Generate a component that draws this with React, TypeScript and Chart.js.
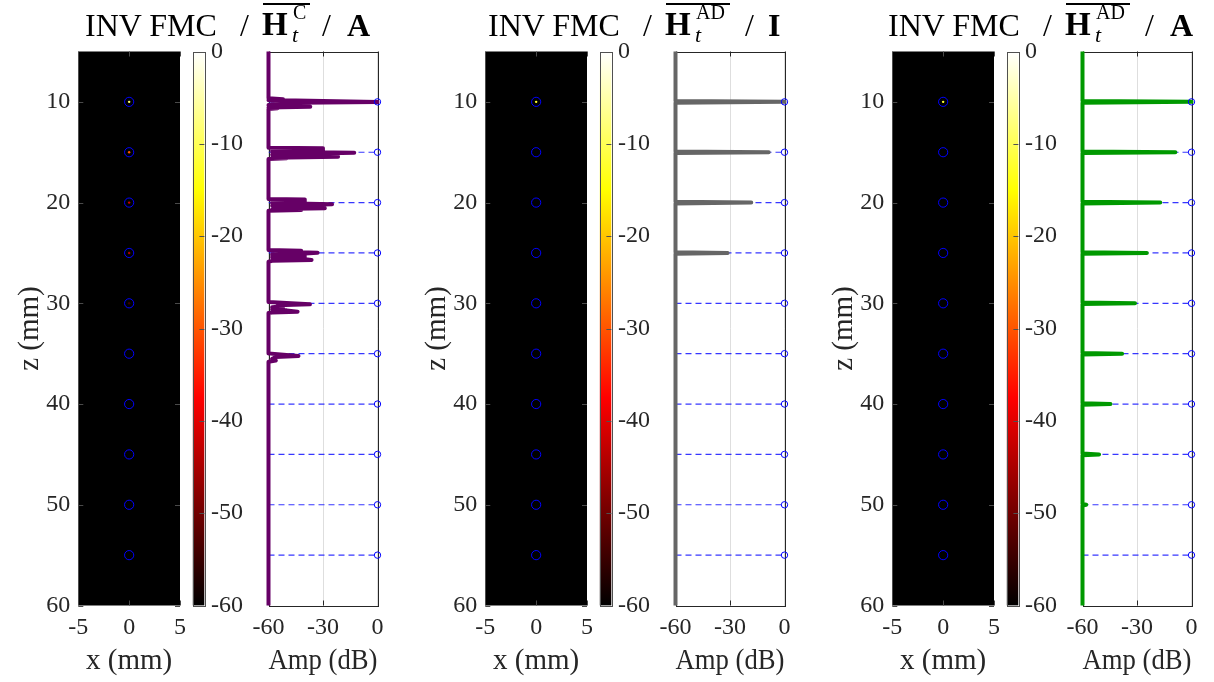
import React, { useEffect, useRef } from 'react';
import { Chart, registerables } from 'chart.js';

Chart.register(...registerables);

// ---------------- data ----------------
const scattererZ = [10, 15, 20, 25, 30, 35, 40, 45, 50, 55];
const zTicks = [10, 20, 30, 40, 50, 60];
const xTicks = [-5, 0, 5];
const ampTicks = [-60, -30, 0];
const cbTicks = [0, -10, -20, -30, -40, -50, -60];

// Panel 1: H_t^C / A  (z in mm, amplitude in dB)
const profileC_z = [
  5,
  9.65, 9.75, 9.82, 10.01, 10.12, 10.22, 10.32, 10.48, 10.56, 10.64, 10.71,
  14.55, 14.6, 14.65, 14.7, 14.75, 14.8, 14.85, 14.9, 14.95, 15.05, 15.15, 15.2, 15.25, 15.3, 15.45, 15.55, 15.6, 15.68,
  19.65, 19.7, 19.75, 19.8, 19.85, 19.9, 19.95, 20.0, 20.05, 20.17, 20.27, 20.32, 20.42, 20.57, 20.62, 20.68, 20.74, 20.81,
  24.71, 24.78, 24.85, 24.98, 25.08, 25.14, 25.24, 25.3, 25.4, 25.46, 25.58, 25.7, 25.78, 25.87,
  29.88, 29.96, 30.1, 30.2, 30.3, 30.4, 30.5, 30.6, 30.7, 30.84, 30.92, 30.97,
  34.97, 35.05, 35.24, 35.34, 35.5, 35.68, 35.8,
  60,
];
const profileC_amp = [
  -60,
  -60, -52, -60, 0, -58, -50, -60, -37, -60, -55, -60,
  -60, -30, -58, -30, -58, -30, -58, -30, -58, -12.8, -40, -30, -58, -45, -21.7, -58, -50, -60,
  -60, -40, -58, -40, -58, -40, -58, -40, -58, -25, -45, -58, -40, -29, -45, -58, -42, -60,
  -60, -42, -58, -33, -42, -58, -40, -58, -40, -58, -42, -36.3, -58, -60,
  -60, -50, -37.2, -55, -52, -58, -52, -58, -50, -44, -58, -60,
  -60, -55, -43.5, -56, -58, -56, -60,
  -60,
];

// Panel 2: H_t^AD / I
const profileADI_z = [5, 9.92, 10, 10.08, 14.92, 15, 15.08, 19.92, 20, 20.08, 24.92, 25, 25.08, 60];
const profileADI_amp = [-60, -60, 0, -60, -60, -8.7, -60, -60, -18.3, -60, -60, -31.3, -60, -60];

// Panel 3: H_t^AD / A
const profileADA_z = [
  5, 9.92, 10, 10.08, 14.92, 15, 15.08, 19.92, 20, 20.08, 24.92, 25, 25.08, 29.92, 30, 30.08,
  34.92, 35, 35.08, 39.92, 40, 40.08, 44.92, 45, 45.08, 49.92, 50, 50.08, 60,
];
const profileADA_amp = [
  -60, -60, 0, -60, -60, -8.9, -60, -60, -17.2, -60, -60, -24.6, -60, -60, -31.1, -60,
  -60, -38.2, -60, -60, -44.6, -60, -60, -50.9, -60, -60, -58, -60, -60,
];

// image intensity at each scatterer centre (dB)
const imageC_amp = [-8, -30, -42, -45, -55, -60, -60, -60, -60, -60];
const imageADI_amp = [-12, -60, -60, -60, -60, -60, -60, -60, -60, -60];
const imageADA_amp = [-12, -60, -60, -60, -60, -60, -60, -60, -60, -60];

// ---------------- style / layout ----------------
const W = 1214;
const H = 682;
const PLOT_TOP = 51.5;
const PLOT_BOTTOM = 605.5;
const FONT = "'Liberation Serif', 'Times New Roman', serif";
const TXT = '#262626';

const hotStops: [number, string][] = [
  [0, '#000000'],
  [0.375, '#ff0000'],
  [0.75, '#ffff00'],
  [1, '#ffffff'],
];

function hotColor(db: number) {
  const f = Math.max(0, Math.min(1, (db + 60) / 60));
  const c = (v: number) => Math.round(255 * Math.max(0, Math.min(1, v)));
  return `rgb(${c(f / 0.375)},${c((f - 0.375) / 0.375)},${c((f - 0.75) / 0.25)})`;
}

// title pieces: left of "INV FMC", offsets of second slash, last symbol and overline end
const panels = [
  { bx: 0, tl: 85, sup: 'C', last: 'A', s2: 237, lst: 262, ov: 47, color: '#660066', z: profileC_z, amp: profileC_amp, img: imageC_amp },
  { bx: 407, tl: 488, sup: 'AD', last: 'I', s2: 257, lst: 280, ov: 64, color: '#666666', z: profileADI_z, amp: profileADI_amp, img: imageADI_amp },
  { bx: 814, tl: 888, sup: 'AD', last: 'A', s2: 257, lst: 282, ov: 64, color: '#009900', z: profileADA_z, amp: profileADA_amp, img: imageADA_amp },
];

const tickFont = { size: 24, family: FONT };
const labelFont = { size: 29, family: FONT };

const setTicks = (vals: number[]) => (s: any) => {
  s.ticks = vals.map((v) => ({ value: v }));
};

const px = (v: number) => Math.round(v) + 0.5;

// ---------------- plugins ----------------
const blackBg = {
  id: 'blackBg',
  beforeDatasetsDraw(chart: any) {
    const { ctx, chartArea: a } = chart;
    ctx.save();
    ctx.fillStyle = '#000';
    ctx.fillRect(a.left, a.top, a.right - a.left, a.bottom - a.top);
    ctx.restore();
  },
};

const imageTicks = {
  id: 'imageTicks',
  afterDatasetsDraw(chart: any) {
    const { ctx, chartArea: a, scales } = chart;
    ctx.save();
    ctx.strokeStyle = '#4a4a4a';
    ctx.lineWidth = 1;
    ctx.beginPath();
    xTicks.forEach((v) => {
      const x = px(scales.x.getPixelForValue(v));
      ctx.moveTo(x, a.top);
      ctx.lineTo(x, a.top + 5);
      ctx.moveTo(x, a.bottom);
      ctx.lineTo(x, a.bottom - 5);
    });
    zTicks.forEach((v) => {
      const y = px(scales.y.getPixelForValue(v));
      ctx.moveTo(a.left, y);
      ctx.lineTo(a.left + 5, y);
      ctx.moveTo(a.right, y);
      ctx.lineTo(a.right - 5, y);
    });
    ctx.stroke();
    ctx.restore();
  },
};

const ampBox = {
  id: 'ampBox',
  beforeDatasetsDraw(chart: any) {
    const { ctx, chartArea: a, scales } = chart;
    ctx.save();
    ctx.strokeStyle = TXT;
    ctx.lineWidth = 1;
    ctx.strokeRect(px(a.left), px(a.top), Math.round(a.right - a.left), Math.round(a.bottom - a.top));
    ctx.beginPath();
    ampTicks.forEach((v) => {
      const x = px(scales.x.getPixelForValue(v));
      ctx.moveTo(x, a.top);
      ctx.lineTo(x, a.top + 5);
      ctx.moveTo(x, a.bottom);
      ctx.lineTo(x, a.bottom - 5);
    });
    ctx.stroke();
    ctx.restore();
  },
};

const cbFrame = {
  id: 'cbFrame',
  afterDatasetsDraw(chart: any) {
    const { ctx, chartArea: a, scales } = chart;
    ctx.save();
    ctx.strokeStyle = '#505050';
    ctx.lineWidth = 1;
    ctx.strokeRect(px(a.left), px(a.top), Math.round(a.right - a.left), Math.round(a.bottom - a.top));
    ctx.beginPath();
    cbTicks.forEach((v) => {
      const y = px(scales.y.getPixelForValue(v));
      ctx.moveTo(a.right, y);
      ctx.lineTo(a.right - 5, y);
    });
    ctx.stroke();
    ctx.restore();
  },
};

const noGrid = { display: false, drawTicks: false };

// ---------------- charts ----------------
function makeImage(canvas: HTMLCanvasElement, p: any) {
  return new Chart(canvas, {
    type: 'scatter',
    data: {
      datasets: [
        {
          data: scattererZ.map((z) => ({ x: 0, y: z })),
          pointRadius: 1.2,
          pointBorderWidth: 0,
          pointBackgroundColor: p.img.map(hotColor),
        },
        {
          data: scattererZ.map((z) => ({ x: 0, y: z })),
          pointRadius: 4.6,
          pointBorderWidth: 1,
          pointBorderColor: '#0000ff',
          pointBackgroundColor: 'rgba(0,0,0,0)',
        },
      ],
    },
    options: {
      responsive: false,
      animation: false,
      events: [],
      layout: { padding: { left: p.bx, right: W - (p.bx + 180), top: PLOT_TOP, bottom: 0 } },
      plugins: { legend: { display: false }, tooltip: { enabled: false } },
      scales: {
        x: {
          type: 'linear',
          min: -5,
          max: 5,
          afterBuildTicks: setTicks(xTicks),
          afterFit: (s: any) => {
            s.height = H - PLOT_BOTTOM;
          },
          grid: noGrid,
          border: { display: false },
          ticks: { padding: 8, font: tickFont, color: TXT, maxRotation: 0, autoSkip: false, callback: (v: any) => String(v) },
          title: { display: true, text: 'x (mm)', font: labelFont, color: TXT, padding: { top: 0, bottom: 3.6 } },
        },
        y: {
          type: 'linear',
          reverse: true,
          min: 5,
          max: 60,
          afterBuildTicks: setTicks(zTicks),
          afterFit: (s: any) => {
            s.width = 78.3;
          },
          grid: noGrid,
          border: { display: false },
          ticks: { padding: 8, font: tickFont, color: TXT, autoSkip: false, callback: (v: any) => String(v) },
          title: { display: true, text: 'z (mm)', font: labelFont, color: TXT, padding: { top: 12.6, bottom: 0 } },
        },
      },
    },
    plugins: [blackBg, imageTicks],
  } as any);
}

function makeColorbar(canvas: HTMLCanvasElement, p: any) {
  return new Chart(canvas, {
    type: 'bar',
    data: {
      labels: [''],
      datasets: [
        {
          data: [[-60, 0]],
          borderWidth: 0,
          barPercentage: 1,
          categoryPercentage: 1,
          backgroundColor: (c: any) => {
            const a = c.chart.chartArea;
            if (!a) return '#ffff00';
            const g = c.chart.ctx.createLinearGradient(0, a.bottom, 0, a.top);
            hotStops.forEach(([f, col]) => g.addColorStop(f, col));
            return g;
          },
        },
      ],
    },
    options: {
      responsive: false,
      animation: false,
      events: [],
      layout: {
        padding: { left: p.bx + 192.7, right: W - (p.bx + 204.4) - 50, top: PLOT_TOP, bottom: H - PLOT_BOTTOM },
      },
      plugins: { legend: { display: false }, tooltip: { enabled: false } },
      scales: {
        x: { display: false },
        y: {
          position: 'right',
          min: -60,
          max: 0,
          afterBuildTicks: setTicks(cbTicks),
          afterFit: (s: any) => {
            s.width = 50;
          },
          grid: noGrid,
          border: { display: false },
          ticks: { padding: 6.5, font: tickFont, color: TXT, autoSkip: false, callback: (v: any) => String(v) },
        },
      },
    },
    plugins: [cbFrame],
  } as any);
}

function makeAmp(canvas: HTMLCanvasElement, p: any) {
  const dashed = scattererZ.map((z) => ({
    data: [
      { x: -60, y: z },
      { x: 0, y: z },
    ],
    showLine: true,
    borderColor: 'rgba(20,20,255,0.85)',
    borderWidth: 1.2,
    borderDash: [6, 4],
    pointRadius: 0,
    order: 2,
  }));
  return new Chart(canvas, {
    type: 'scatter',
    data: {
      datasets: [
        {
          data: p.z.map((z: number, i: number) => ({ x: p.amp[i], y: z })),
          showLine: true,
          borderColor: p.color,
          borderWidth: 4,
          borderJoinStyle: 'round',
          borderCapStyle: 'butt',
          pointRadius: 0,
          clip: { left: 4, right: 3, top: 0, bottom: 0 },
          order: 0,
        },
        ...dashed,
        {
          data: scattererZ.map((z) => ({ x: 0, y: z })),
          pointRadius: 3.2,
          pointBorderWidth: 1,
          pointBorderColor: '#0000ff',
          pointBackgroundColor: 'rgba(0,0,0,0)',
          clip: false,
          order: -1,
        },
      ],
    },
    options: {
      responsive: false,
      animation: false,
      events: [],
      layout: { padding: { left: p.bx + 268.5, right: W - (p.bx + 377.5), top: PLOT_TOP, bottom: 0 } },
      plugins: { legend: { display: false }, tooltip: { enabled: false } },
      scales: {
        x: {
          type: 'linear',
          min: -60,
          max: 0,
          afterBuildTicks: setTicks(ampTicks),
          afterFit: (s: any) => {
            s.height = H - PLOT_BOTTOM;
          },
          grid: { display: true, color: '#dedede', lineWidth: 1, drawTicks: false },
          border: { display: false },
          ticks: { padding: 8, font: tickFont, color: TXT, maxRotation: 0, autoSkip: false, callback: (v: any) => String(v) },
          title: { display: true, text: 'Amp (dB)', font: labelFont, color: TXT, padding: { top: 0, bottom: 3.6 } },
        },
        y: { display: false, type: 'linear', reverse: true, min: 5, max: 60 },
      },
    },
    plugins: [ampBox],
  } as any);
}

// ---------------- components ----------------
// baseline from top of a line box with line-height = font size (Liberation Serif)
const BASE_K = 0.8375;

function Piece({ x, base, size, bold, italic, children }: any) {
  return (
    <span
      style={{
        position: 'absolute',
        left: x,
        top: base - BASE_K * size,
        fontFamily: FONT,
        fontSize: size,
        lineHeight: `${size}px`,
        fontWeight: bold ? 'bold' : 'normal',
        fontStyle: italic ? 'italic' : 'normal',
        whiteSpace: 'nowrap',
        color: '#000',
      }}
    >
      {children}
    </span>
  );
}

function Title({ p }: { p: any }) {
  const L = p.tl;
  const B = 35.7;
  return (
    <>
      <Piece x={L} base={B} size={32}>INV FMC</Piece>
      <Piece x={L + 155} base={B} size={32}>/</Piece>
      <Piece x={L + 177} base={B} size={33} bold>H</Piece>
      <Piece x={L + 208} base={18.3} size={20}>{p.sup}</Piece>
      <Piece x={L + 207} base={42.5} size={22} italic>t</Piece>
      <span style={{ position: 'absolute', left: L + 178, top: 3.4, width: p.ov, height: 2, background: '#000' }} />
      <Piece x={L + p.s2} base={B} size={32}>/</Piece>
      <Piece x={L + p.lst} base={B} size={32} bold>{p.last}</Piece>
    </>
  );
}

function Panel({ p }: { p: any }) {
  const imgRef = useRef<HTMLCanvasElement>(null);
  const cbRef = useRef<HTMLCanvasElement>(null);
  const ampRef = useRef<HTMLCanvasElement>(null);
  useEffect(() => {
    const charts = [makeImage(imgRef.current!, p), makeColorbar(cbRef.current!, p), makeAmp(ampRef.current!, p)];
    return () => charts.forEach((c) => c.destroy());
  }, [p]);
  const cs: React.CSSProperties = { position: 'absolute', left: 0, top: 0 };
  return (
    <>
      <canvas ref={imgRef} width={W} height={H} style={cs} />
      <canvas ref={cbRef} width={W} height={H} style={cs} />
      <canvas ref={ampRef} width={W} height={H} style={cs} />
      <Title p={p} />
    </>
  );
}

export default function App() {
  return (
    <div style={{ position: 'absolute', left: 0, top: 0, width: W, height: H, background: '#fff', overflow: 'hidden' }}>
      {panels.map((p, i) => (
        <Panel key={i} p={p} />
      ))}
    </div>
  );
}
